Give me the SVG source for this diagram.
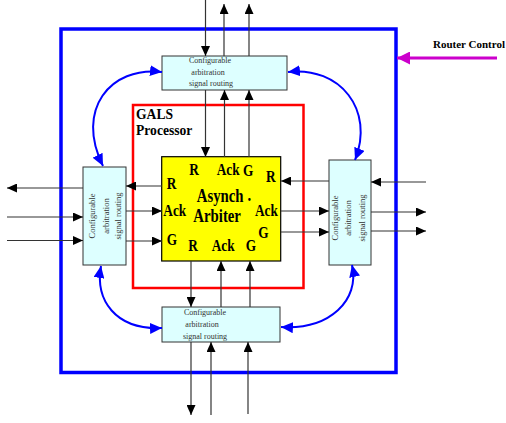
<svg xmlns="http://www.w3.org/2000/svg" width="506" height="423" viewBox="0 0 506 423">
<style>
.rt{fill:#ddffff;stroke:#333;stroke-width:1}
.rtxt{font-family:"Liberation Serif",serif;font-size:8px;fill:#333}
.vtxt{font-family:"Liberation Serif",serif;font-size:8.5px;fill:#333}
.lab{font-family:"Liberation Serif",serif;font-weight:bold;font-size:13.3px;fill:#000}
.big{font-family:"Liberation Serif",serif;font-weight:bold;font-size:14.8px;fill:#000}
.w{fill:none;stroke:#333;stroke-width:1.2;marker-end:url(#ah)}
.b{fill:none;stroke:#0000ff;stroke-width:2;marker-start:url(#bh);marker-end:url(#bh)}
</style>
<defs>
<marker id="ah" viewBox="0 0 10 9" refX="10" refY="4.5" markerWidth="10" markerHeight="9" markerUnits="userSpaceOnUse" orient="auto-start-reverse"><path d="M0,0 L10,4.5 L0,9 z" fill="#000"/></marker>
<marker id="bh" viewBox="0 0 12 11" refX="12" refY="5.5" markerWidth="12" markerHeight="11" markerUnits="userSpaceOnUse" orient="auto-start-reverse"><path d="M0,0 L12,5.5 L0,11 z" fill="#0000ff"/></marker>
<marker id="mh" viewBox="0 0 13 13" refX="13" refY="6.5" markerWidth="13" markerHeight="13" markerUnits="userSpaceOnUse" orient="auto"><path d="M0,0 L13,6.5 L0,13 z" fill="#cc00cc"/></marker>
</defs>
<g id="router"><rect x="61" y="29" width="335" height="343.5" fill="none" stroke="#0000ff" stroke-width="3.5"/></g>
<g id="gals"><rect x="133" y="105" width="170.5" height="183" fill="none" stroke="#ff0000" stroke-width="2.5"/>
<text class="lab" x="136" y="119" style="font-size:13.6px">GALS</text>
<text class="lab" x="136" y="135" style="font-size:13.6px">Processor</text></g>
<g id="arbiter"><rect x="161.7" y="156.7" width="119" height="104.3" fill="#ffff00" stroke="#000" stroke-width="1.2"/>
<text class="lab" transform="translate(189.3 175) scale(1 1.3)">R</text>
<text class="lab" transform="translate(216.7 175) scale(1 1.3)">Ack</text>
<text class="lab" transform="translate(243 176) scale(1 1.3)">G</text>
<text class="lab" transform="translate(266 181.7) scale(1 1.3)">R</text>
<text class="lab" transform="translate(166.7 189) scale(1 1.3)">R</text>
<text class="big" transform="translate(196.7 202) scale(1 1.27)">Asynch</text>
<text class="big" transform="translate(247.5 201) scale(1 1.27)">.</text>
<text class="big" transform="translate(193.3 221.7) scale(1 1.27)">Arbiter</text>
<text class="lab" transform="translate(163.3 215.7) scale(1 1.3)">Ack</text>
<text class="lab" transform="translate(255 215.7) scale(1 1.3)">Ack</text>
<text class="lab" transform="translate(258.3 238) scale(1 1.3)">G</text>
<text class="lab" transform="translate(166.7 245) scale(1 1.3)">G</text>
<text class="lab" transform="translate(188.3 250.7) scale(1 1.3)">R</text>
<text class="lab" transform="translate(211.7 250.7) scale(1 1.3)">Ack</text>
<text class="lab" transform="translate(245.7 251) scale(1 1.3)">G</text></g>
<g id="route-top"><rect class="rt" x="162" y="56" width="125" height="34"/>
<text class="rtxt" x="210" y="63" text-anchor="middle">Configurable</text>
<text class="rtxt" x="208" y="75" text-anchor="middle">arbitration</text>
<text class="rtxt" x="211" y="86" text-anchor="middle">signal routing</text></g>
<g id="route-bottom"><rect class="rt" x="162" y="307" width="118" height="35"/>
<text class="rtxt" x="205" y="314.5" text-anchor="middle">Configurable</text>
<text class="rtxt" x="202" y="327" text-anchor="middle">arbitration</text>
<text class="rtxt" x="205" y="338.5" text-anchor="middle">signal routing</text></g>
<g id="route-left"><rect class="rt" x="83" y="167" width="43" height="98"/>
<text class="vtxt" transform="translate(94.5 216) rotate(-90)" text-anchor="middle">Configurable</text>
<text class="vtxt" transform="translate(108.5 216) rotate(-90)" text-anchor="middle">arbitration</text>
<text class="vtxt" transform="translate(120.5 216) rotate(-90)" text-anchor="middle">signal routing</text></g>
<g id="route-right"><rect class="rt" x="329" y="160" width="42" height="105"/>
<text class="vtxt" transform="translate(337.5 218) rotate(-90)" text-anchor="middle">Configurable</text>
<text class="vtxt" transform="translate(350.5 218) rotate(-90)" text-anchor="middle">arbitration</text>
<text class="vtxt" transform="translate(364.5 218) rotate(-90)" text-anchor="middle">signal routing</text></g>
<g id="router-control"><text x="433" y="48" style="font-family:'Liberation Serif',serif;font-weight:bold;font-size:11px;fill:#000">Router Control</text></g>
<g id="connectors">
<path class="w" d="M205.5,0 V56"/>
<path class="w" d="M224,56 V4"/>
<path class="w" d="M249,56 V4"/>
<path class="w" d="M205.5,90 V157"/>
<path class="w" d="M224.5,157 V90"/>
<path class="w" d="M249,157 V90"/>
<path class="w" d="M83,188 H7"/>
<path class="w" d="M7,217 H83"/>
<path class="w" d="M7,240.5 H83"/>
<path class="w" d="M162,186 H126"/>
<path class="w" d="M126,211 H162"/>
<path class="w" d="M126,241 H162"/>
<path class="w" d="M329,181 H281"/>
<path class="w" d="M281,211 H329"/>
<path class="w" d="M281,232 H329"/>
<path class="w" d="M426,182 H371"/>
<path class="w" d="M371,212 H426"/>
<path class="w" d="M371,231 H426"/>
<path class="w" d="M191,261 V307"/>
<path class="w" d="M221,307 V261"/>
<path class="w" d="M250,307 V261"/>
<path class="w" d="M191,342 V415"/>
<path class="w" d="M211,415 V342"/>
<path class="w" d="M248,414 V342"/>
<path class="b" d="M162,72 C110,66 75,110 103,166"/>
<path class="b" d="M288,72 C340,66 375,110 355,160"/>
<path class="b" d="M352,265 C360,300 330,330 281,327"/>
<path class="b" d="M101,266 C95,300 115,330 162,328"/>
<path d="M497,58 H397" fill="none" stroke="#cc00cc" stroke-width="3" marker-end="url(#mh)"/>
</g>
</svg>
